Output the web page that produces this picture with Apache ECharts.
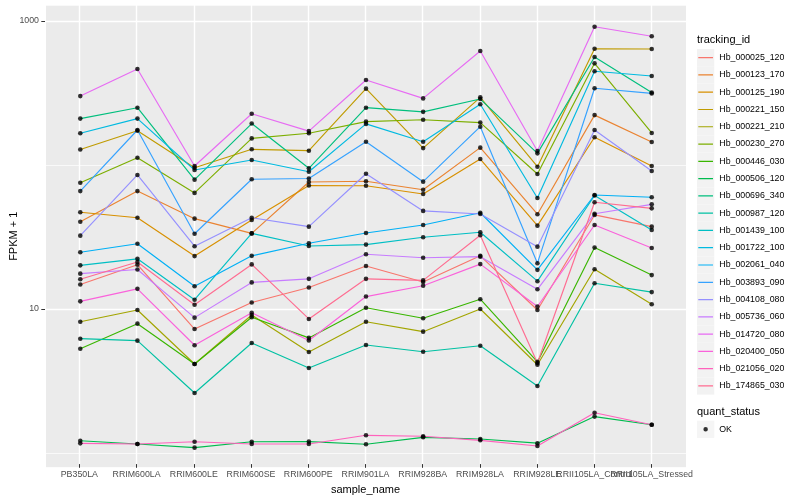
<!DOCTYPE html>
<html><head><meta charset="utf-8">
<script src="https://cdn.jsdelivr.net/npm/echarts@6/dist/echarts.min.js"></script>
<style>html,body{margin:0;padding:0;background:#fff}#c{width:800px;height:500px}</style>
</head><body><div id="c"></div><script>
const categories = ['PB350LA','RRIM600LA','RRIM600LE','RRIM600SE','RRIM600PE','RRIM901LA','RRIM928BA','RRIM928LA','RRIM928LE','RRII105LA_Control','RRII105LA_Stressed'];
const trackingIds = ['Hb_000025_120','Hb_000123_170','Hb_000125_190','Hb_000221_150','Hb_000221_210','Hb_000230_270','Hb_000446_030','Hb_000506_120','Hb_000696_340','Hb_000987_120','Hb_001439_100','Hb_001722_100','Hb_002061_040','Hb_003893_090','Hb_004108_080','Hb_005736_060','Hb_014720_080','Hb_020400_050','Hb_021056_020','Hb_174865_030'];
const colors = ['#F8766D','#EA8331','#D89000','#C09B00','#A3A500','#7CAE00','#39B600','#00BB4E','#00BF7D','#00C1A3','#00BFC4','#00BAE0','#00B0F6','#35A2FF','#9590FF','#C77CFF','#E76BF3','#FA62DB','#FF62BC','#FF6C91'];
const yTickLabels = ['10','1000'];

// FPKM + 1 per sample, in category order
const v_000025_120 = [14.8, 20.3, 7.26, 11.1, 14.1, 19.9, 15.4, 23.4, 9.84, 45.0, 37.3];
const v_000123_170 = [40.4, 65.9, 42.4, 33.5, 76.2, 77.1, 67.3, 132, 45.5, 222, 144.5];
const v_000125_190 = [47.0, 43.0, 23.3, 41.5, 72.1, 71.8, 62.9, 110, 37.9, 156, 98.4];
const v_000221_150 = [128, 173, 95.8, 128.5, 125.7, 339, 131, 295, 97.3, 642, 639];
const v_000221_210 = [8.16, 9.84, 4.15, 9.09, 5.03, 8.16, 6.96, 10.0, 4.1, 18.9, 10.8];
const v_000230_270 = [75.3, 112.4, 64.0, 153, 166, 200, 206, 197, 86.6, 508, 167];
const v_000446_030 = [5.30, 7.91, 4.15, 8.76, 6.3, 10.2, 8.62, 11.7, 4.29, 26.7, 17.2];
const v_000506_120 = [1.216, 1.155, 1.089, 1.197, 1.20, 1.15, 1.285, 1.25, 1.17, 1.79, 1.57];
const v_000696_340 = [210, 250, 79.1, 194, 94.9, 250, 234, 287, 120.5, 562, 319];
const v_000987_120 = [6.22, 6.03, 2.61, 5.81, 3.89, 5.62, 5.05, 5.56, 2.92, 15.1, 13.1];
const v_001439_100 = [20.1, 22.3, 11.6, 33.5, 27.4, 28.0, 31.5, 34.1, 15.6, 61.4, 35.4];
const v_001722_100 = [166, 210, 92.3, 108.3, 89.8, 193, 145, 264, 59.0, 448, 415];
const v_002061_040 = [24.8, 28.4, 14.4, 23.4, 28.6, 33.7, 38.3, 46.6, 18.7, 61.9, 59.7];
const v_003893_090 = [65.9, 175, 33.3, 79.6, 80.6, 145, 76.6, 184.5, 20.8, 341, 314];
const v_004108_080 = [32.3, 85.3, 27.3, 43.0, 37.3, 87.0, 48.0, 45.7, 27.1, 175, 90.9];
const v_005736_060 = [17.6, 18.8, 8.71, 15.3, 16.2, 24.0, 22.7, 23.1, 13.7, 45.9, 53.3];
const v_014720_080 = [301, 464, 98.4, 227, 172, 389, 290, 619, 125, 912, 783];
const v_020400_050 = [11.3, 13.8, 5.60, 9.42, 6.05, 12.2, 14.5, 20.5, 10.4, 38.3, 26.5];
const v_021056_020 = [1.167, 1.155, 1.197, 1.155, 1.155, 1.327, 1.306, 1.225, 1.119, 1.905, 1.57];
const v_174865_030 = [16.1, 21.2, 10.7, 20.4, 8.53, 16.2, 15.8, 32.5, 4.22, 55.1, 50.0];

const allValues = [v_000025_120, v_000123_170, v_000125_190, v_000221_150, v_000221_210, v_000230_270, v_000446_030, v_000506_120, v_000696_340, v_000987_120, v_001439_100, v_001722_100, v_002061_040, v_003893_090, v_004108_080, v_005736_060, v_014720_080, v_020400_050, v_021056_020, v_174865_030];

const FONT = 'Liberation Sans, Arial, sans-serif';
const LINE_ICON = 'path://M0,0h0.02v0.02h-0.02z M1.5,9.3h17v1.4h-17z M19.98,19.98h0.02v0.02h-0.02z';
const DOT_ICON = 'path://M0,0h0.02v0.02h-0.02z M19.98,19.98h0.02v0.02h-0.02z M10,7.4a2.6,2.6 0 1,0 0.001,0z';

const series = trackingIds.map((id, k) => ({
  name: id, type: 'line', xAxisIndex: 0, yAxisIndex: 0,
  data: allValues[k].map((v, i) => [i, v]),
  showSymbol: false, symbol: 'none', clip: false, silent: true,
  color: colors[k],
  lineStyle: { width: 1.15, color: colors[k] },
  itemStyle: { color: colors[k] },
  z: 2
}));
const pts = [];
allValues.forEach(arr => arr.forEach((v, i) => pts.push([i, v])));
series.push({ name: 'OK', type: 'scatter', xAxisIndex: 0, yAxisIndex: 0, data: pts, symbol: 'circle', symbolSize: 4.6, itemStyle: { color: '#000' }, silent: true, clip: false, z: 5 });

const legendBase = { orient: 'vertical', left: 697, padding: 0, itemGap: 0, itemWidth: 17.28, itemHeight: 17.28, selectedMode: false };

const option = {
  animation: false,
  backgroundColor: '#fff',
  textStyle: { fontFamily: FONT },
  title: [
    { text: 'tracking_id', left: 697, top: 34, padding: 0, textStyle: { fontSize: 11, fontWeight: 'normal', color: '#000', fontFamily: FONT } },
    { text: 'quant_status', left: 697, top: 406, padding: 0, textStyle: { fontSize: 11, fontWeight: 'normal', color: '#000', fontFamily: FONT } }
  ],
  legend: [
    Object.assign({}, legendBase, { top: 49, data: trackingIds, icon: 'rect', itemStyle: { color: '#F2F2F2', borderWidth: 0 }, formatter: () => '', z: 3 }),
    Object.assign({}, legendBase, { top: 49, data: trackingIds, icon: LINE_ICON, itemStyle: { borderWidth: 0 }, textStyle: { fontSize: 8.8, color: '#000', fontFamily: FONT }, z: 4 }),
    Object.assign({}, legendBase, { top: 420.7, data: ['OK'], icon: 'rect', itemStyle: { color: '#F2F2F2', borderWidth: 0 }, formatter: () => '', z: 3 }),
    Object.assign({}, legendBase, { top: 420.7, data: ['OK'], icon: DOT_ICON, itemStyle: { color: '#000', borderWidth: 0 }, textStyle: { fontSize: 8.8, color: '#000', fontFamily: FONT }, z: 4 })
  ],
  grid: [
    { left: 45, top: 5, width: 641, height: 462.5, show: true, backgroundColor: '#EBEBEB', borderWidth: 0, containLabel: false },
    { left: 45, top: 21, width: 641, height: 288, show: false, containLabel: false },
    { left: 79.34, top: 5, width: 572.32, height: 462.5, show: false, containLabel: false }
  ],
  xAxis: [
    { gridIndex: 0, type: 'value', min: -0.6, max: 10.6, show: false },
    { gridIndex: 1, type: 'value', min: 0, max: 1, show: false },
    { gridIndex: 2, type: 'category', data: categories, boundaryGap: false,
      axisLine: { show: false },
      axisTick: { show: true, length: 3.7, alignWithLabel: true, lineStyle: { color: '#333', width: 1 } },
      axisLabel: { interval: 0, hideOverlap: false, color: '#4D4D4D', fontSize: 8.8, fontFamily: FONT, margin: 6 },
      splitLine: { show: true, lineStyle: { color: '#fff', width: 1.4 } },
      name: 'sample_name', nameLocation: 'middle', nameGap: 17,
      nameTextStyle: { fontSize: 11, color: '#000', fontFamily: FONT } }
  ],
  yAxis: [
    { gridIndex: 0, type: 'log', logBase: 10, min: 0.793, max: 1291.5,
      axisLine: { show: false }, axisTick: { show: false }, axisLabel: { show: false },
      splitLine: { show: true, lineStyle: { color: '#fff', width: 0.7 } },
      name: 'FPKM + 1', nameLocation: 'middle', nameGap: 27,
      nameTextStyle: { fontSize: 11, color: '#000', fontFamily: FONT } },
    { gridIndex: 1, type: 'value', min: 1, max: 3, interval: 2,
      axisLine: { show: false },
      axisTick: { show: true, length: 3.7, lineStyle: { color: '#333', width: 1 } },
      axisLabel: { color: '#4D4D4D', fontSize: 8.8, fontFamily: FONT, margin: 6,
        formatter: v => (v === 1 ? yTickLabels[0] : (v === 3 ? yTickLabels[1] : '')) },
      splitLine: { show: true, lineStyle: { color: '#fff', width: 1.4 } } },
    { gridIndex: 2, type: 'value', show: false }
  ],
  series: series
};
const chart = echarts.init(document.getElementById('c'));
chart.setOption(option);
</script></body></html>
